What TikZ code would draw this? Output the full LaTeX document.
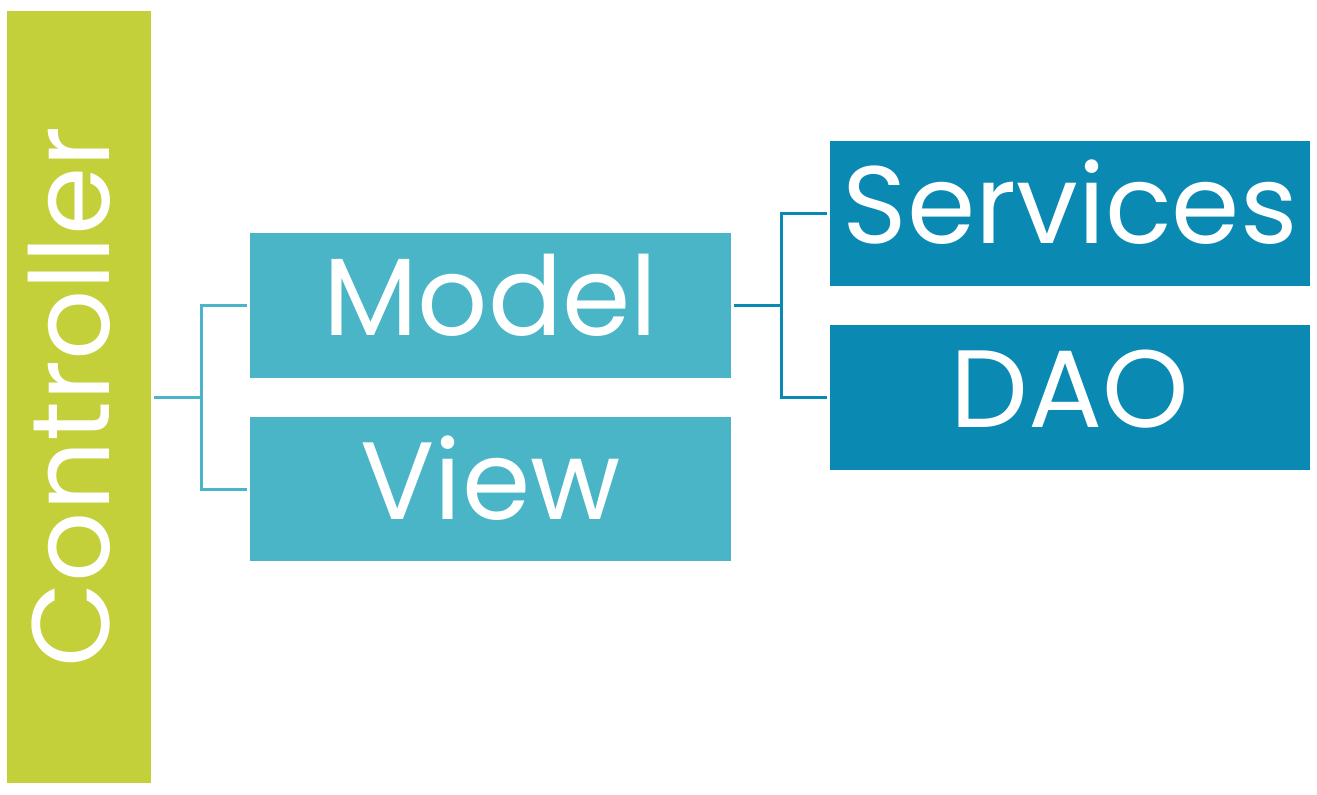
\documentclass[tikz,border=0pt]{standalone}
\usepackage{fontspec}
\setmainfont{Poppins}
\usepackage{tikz}
\definecolor{lime}{RGB}{195,208,58}
\definecolor{tealA}{RGB}{74,181,198}
\definecolor{tealB}{RGB}{10,137,178}
\begin{document}
\begin{tikzpicture}[x=0.5pt,y=0.5pt,yscale=-1,xscale=1,
  box/.style={fill=#1,draw=none,text=white,inner sep=0pt,
    font=\fontsize{55}{56}\selectfont,text height=34pt,text depth=4pt},
  conn/.style={draw=#1,line width=1.5pt,shorten <=1.5pt,shorten >=1.5pt}]
\useasboundingbox (0,0) rectangle (1317,794);
\node [box=lime,minimum width=386pt,minimum height=72pt,rotate=90] (ctrl) at (79,397) {Controller};
\node [box=tealA,minimum width=240.5pt,minimum height=72.5pt] (model) at (490.5,305) {Model};
\node [box=tealA,minimum width=240.5pt,minimum height=72pt] (view) at (490.5,489) {View};
\node [box=tealB,minimum width=240pt,minimum height=72.5pt] (serv) at (1070,213.5) {Services};
\node [box=tealB,minimum width=240pt,minimum height=72.5pt] (dao) at (1070,397) {DAO};
\coordinate (cl) at (201,397);
\coordinate (cr) at (781,305);
\draw [conn=tealA,shorten >=0pt] (ctrl.south) -- (cl);
\draw [conn=tealA] (model.west) -| (cl) |- (view.west);
\draw [conn=tealB,shorten >=0pt] (model.east) -- (cr);
\draw [conn=tealB] (serv.west) -| (cr) |- (dao.west);
\end{tikzpicture}
\end{document}
